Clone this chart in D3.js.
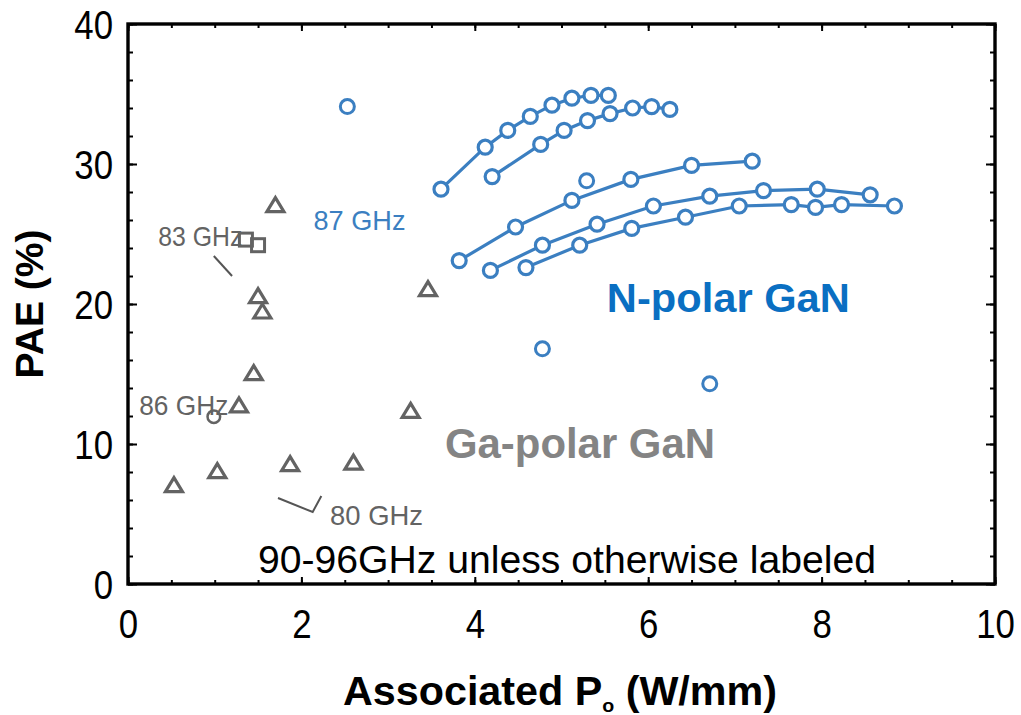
<!DOCTYPE html>
<html>
<head>
<meta charset="utf-8">
<script src="https://cdn.jsdelivr.net/npm/d3@7"></script>
<style>
  html, body { margin: 0; padding: 0; background: #fff; }
  svg { display: block; font-family: "Liberation Sans", Arial, sans-serif; }
</style>
</head>
<body>
<svg id="chart" width="1021" height="715"></svg>
<script>
// ---- data: associated output power (W/mm) vs PAE (%) ----
const xTicks = [0, 2, 4, 6, 8, 10];
const yTicks = [0, 10, 20, 30, 40];

// N-polar GaN power sweeps (each sweep is a connected curve)
const sweep1X = [3.61, 4.12, 4.38, 4.64, 4.89, 5.12, 5.34, 5.54];
const sweep1Y = [28.2, 31.2, 32.4, 33.4, 34.2, 34.7, 34.9, 34.9];
const sweep2X = [4.20, 4.76, 5.03, 5.30, 5.56, 5.82, 6.04, 6.25];
const sweep2Y = [29.1, 31.4, 32.4, 33.1, 33.6, 34.0, 34.1, 33.9];
const sweep3X = [3.82, 4.47, 5.12, 5.80, 6.50, 7.20];
const sweep3Y = [23.1, 25.5, 27.4, 28.9, 29.9, 30.2];
const sweep4X = [4.18, 4.78, 5.41, 6.06, 6.71, 7.33, 7.95, 8.56];
const sweep4Y = [22.4, 24.2, 25.7, 27.0, 27.7, 28.1, 28.2, 27.8];
const sweep5X = [4.59, 5.21, 5.81, 6.43, 7.05, 7.65, 7.93, 8.23, 8.84];
const sweep5Y = [22.6, 24.2, 25.4, 26.2, 27.0, 27.1, 26.9, 27.1, 27.0];

// N-polar GaN single results
const nPolarX = [2.53, 5.29, 4.78, 6.71];
const nPolarY = [34.1, 28.8, 16.8, 14.3];

// Ga-polar GaN results (90-96 GHz unless labeled)
const gaTriX = [0.53, 1.03, 1.28, 1.45, 1.50, 1.55, 1.70, 1.87, 2.60, 3.26, 3.46];
const gaTriY = [7.1, 8.1, 12.8, 15.1, 20.6, 19.5, 27.1, 8.6, 8.7, 12.4, 21.1];
const ga83X = [1.36, 1.50];      // 83 GHz
const ga83Y = [24.6, 24.2];
const ga86X = [0.99];            // 86 GHz
const ga86Y = [11.95];

const sweeps = [
  [sweep1X, sweep1Y], [sweep2X, sweep2Y], [sweep3X, sweep3Y],
  [sweep4X, sweep4Y], [sweep5X, sweep5Y]
];

// ---- layout ----
const svg = d3.select("#chart");
const L = 128, R = 995, T = 24, B = 584;
const x = d3.scaleLinear().domain([0, 10]).range([L, R]);
const y = d3.scaleLinear().domain([0, 40]).range([B, T]);

const blue = "#3b7fc1";
const gray = "#636363";

// ---- axes: minor and major ticks point inward on all four sides ----
function styleAxis(g) {
  g.select(".domain").remove();
  g.selectAll(".tick line").attr("stroke", "#000").attr("stroke-width", 2);
}
const minorX = d3.range(0, 10.01, 0.5);
const minorY = d3.range(0, 40.01, 2);

svg.append("g").attr("transform", `translate(0,${B})`)
  .call(d3.axisBottom(x).tickValues(minorX).tickSize(-4).tickFormat(""))
  .call(styleAxis);
svg.append("g").attr("transform", `translate(0,${T})`)
  .call(d3.axisTop(x).tickValues(minorX).tickSize(-4).tickFormat(""))
  .call(styleAxis);
svg.append("g").attr("transform", `translate(${L},0)`)
  .call(d3.axisLeft(y).tickValues(minorY).tickSize(-5).tickFormat(""))
  .call(styleAxis);
svg.append("g").attr("transform", `translate(${R},0)`)
  .call(d3.axisRight(y).tickValues(minorY).tickSize(-5).tickFormat(""))
  .call(styleAxis);
svg.append("g").attr("transform", `translate(0,${T})`)
  .call(d3.axisTop(x).tickValues(xTicks).tickSize(-7).tickFormat(""))
  .call(styleAxis);
svg.append("g").attr("transform", `translate(${R},0)`)
  .call(d3.axisRight(y).tickValues(yTicks).tickSize(-9).tickFormat(""))
  .call(styleAxis);

// labelled axes
const xAxis = svg.append("g").attr("transform", `translate(0,${B})`)
  .call(d3.axisBottom(x).tickValues(xTicks).tickSize(-7).tickFormat(d3.format("d")))
  .call(styleAxis);
xAxis.selectAll(".tick text")
  .attr("y", 26).attr("dy", "0.71em")
  .attr("fill", "#000")
  .style("font-size", "40px")
  .style("font-family", "'Liberation Sans', Arial, sans-serif")
  .attr("transform", "scale(0.87,1)");

const yAxis = svg.append("g").attr("transform", `translate(${L},0)`)
  .call(d3.axisLeft(y).tickValues(yTicks).tickSize(-9).tickFormat(d3.format("d")))
  .call(styleAxis);
yAxis.selectAll(".tick text")
  .attr("x", -15 / 0.87).attr("dy", "0.35em")
  .attr("fill", "#000")
  .style("font-size", "40px")
  .style("font-family", "'Liberation Sans', Arial, sans-serif")
  .attr("transform", "scale(0.87,1)");

// plot frame
svg.append("rect")
  .attr("x", L).attr("y", T)
  .attr("width", R - L).attr("height", B - T)
  .attr("fill", "none").attr("stroke", "#000").attr("stroke-width", 3.4);

// ---- axis titles ----
const xTitle = svg.append("text")
  .attr("x", 560).attr("y", 705)
  .attr("text-anchor", "middle")
  .attr("textLength", 434).attr("lengthAdjust", "spacingAndGlyphs")
  .style("font-size", "40px").style("font-weight", "bold").attr("fill", "#000");
xTitle.append("tspan").text("Associated P");
xTitle.append("tspan").attr("dy", 7).style("font-size", "19px").text("o");
xTitle.append("tspan").attr("dy", -7).text(" (W/mm)");

svg.append("text")
  .attr("transform", "translate(43,304) rotate(-90)")
  .attr("text-anchor", "middle")
  .style("font-size", "39px").style("font-weight", "bold").attr("fill", "#000")
  .text("PAE (%)");

// ---- annotations (placed in data units) ----
const frequencyNotes = [
  { text: "83 GHz", px: 0.35, py: 24.15, len: 84, color: gray },
  { text: "87 GHz", px: 2.14, py: 25.3, len: 92, color: blue },
  { text: "86 GHz", px: 0.13, py: 12.1, len: 89, color: gray },
  { text: "80 GHz", px: 2.33, py: 4.2, len: 93, color: gray }
];
svg.append("g").selectAll("text").data(frequencyNotes).join("text")
  .attr("x", d => x(d.px)).attr("y", d => y(d.py))
  .attr("textLength", d => d.len).attr("lengthAdjust", "spacingAndGlyphs")
  .style("font-size", "28px").attr("fill", d => d.color)
  .text(d => d.text);

const leaders = [
  [[0.99, 23.43], [1.20, 22.0]],
  [[1.73, 6.14], [2.13, 5.14], [2.23, 6.29]]
];
svg.append("g").selectAll("path").data(leaders).join("path")
  .attr("d", d3.line().x(d => x(d[0])).y(d => y(d[1])))
  .attr("fill", "none").attr("stroke", "#555").attr("stroke-width", 2);

svg.append("text")
  .attr("x", x(5.523)).attr("y", y(19.43))
  .attr("textLength", 243).attr("lengthAdjust", "spacingAndGlyphs")
  .style("font-size", "41px").style("font-weight", "bold").attr("fill", "#0a6fc2")
  .text("N-polar GaN");
svg.append("text")
  .attr("x", x(3.656)).attr("y", y(9.0))
  .attr("textLength", 270).attr("lengthAdjust", "spacingAndGlyphs")
  .style("font-size", "42px").style("font-weight", "bold").attr("fill", "#848484")
  .text("Ga-polar GaN");
svg.append("text")
  .attr("x", x(1.499)).attr("y", y(0.79))
  .attr("textLength", 618).attr("lengthAdjust", "spacingAndGlyphs")
  .style("font-size", "38px").attr("fill", "#000")
  .text("90-96GHz unless otherwise labeled");

// ---- Ga-polar markers ----
const zip = (xs, ys) => xs.map((v, i) => [v, ys[i]]);
const tri = (w, h) => `M0,${-h / 2}L${w / 2},${h / 2}L${-w / 2},${h / 2}Z`;

svg.append("g").selectAll("path").data(zip(gaTriX, gaTriY)).join("path")
  .attr("transform", d => `translate(${x(d[0])},${y(d[1])})`)
  .attr("d", tri(17, 14))
  .attr("fill", "none").attr("stroke", gray).attr("stroke-width", 3.2);

svg.append("g").selectAll("rect").data(zip(ga83X, ga83Y)).join("rect")
  .attr("x", d => x(d[0]) - 6.5).attr("y", d => y(d[1]) - 6.5)
  .attr("width", 13).attr("height", 13)
  .attr("fill", "none").attr("stroke", gray).attr("stroke-width", 3);

svg.append("g").selectAll("circle").data(zip(ga86X, ga86Y)).join("circle")
  .attr("cx", d => x(d[0])).attr("cy", d => y(d[1])).attr("r", 6.3)
  .attr("fill", "none").attr("stroke", gray).attr("stroke-width", 2.5);

// ---- N-polar sweeps ----
const line = d3.line().x(d => x(d[0])).y(d => y(d[1]));
const sweepG = svg.append("g");
sweeps.forEach(([xs, ys]) => {
  const pts = zip(xs, ys);
  sweepG.append("path").attr("d", line(pts))
    .attr("fill", "none").attr("stroke", blue).attr("stroke-width", 3.2);
  sweepG.append("g").selectAll("circle").data(pts).join("circle")
    .attr("cx", d => x(d[0])).attr("cy", d => y(d[1])).attr("r", 7)
    .attr("fill", "#fff").attr("stroke", blue).attr("stroke-width", 3.2);
});

svg.append("g").selectAll("circle").data(zip(nPolarX, nPolarY)).join("circle")
  .attr("cx", d => x(d[0])).attr("cy", d => y(d[1])).attr("r", 7)
  .attr("fill", "none").attr("stroke", blue).attr("stroke-width", 3);
</script>
</body>
</html>
